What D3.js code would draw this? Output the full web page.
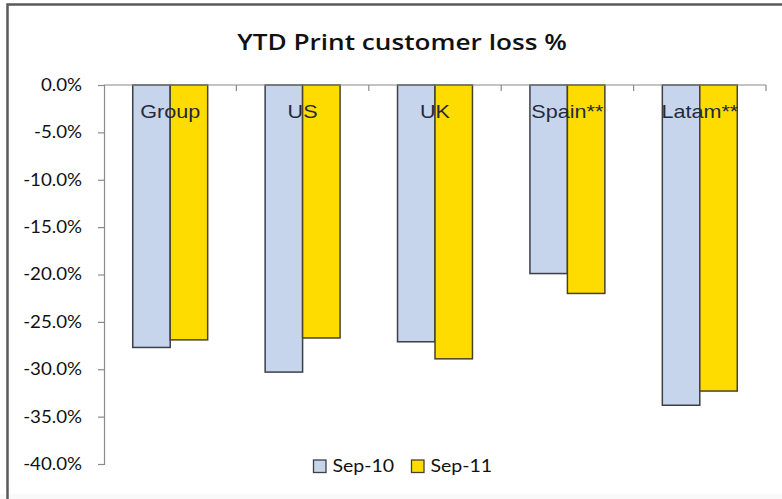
<!DOCTYPE html>
<html>
<head>
<meta charset="utf-8">
<script src="https://cdn.jsdelivr.net/npm/d3@7/dist/d3.min.js"></script>
<style>
  html, body { margin: 0; padding: 0; background: #ffffff; }
  svg { display: block; }
</style>
</head>
<body>
<svg id="chart" width="782" height="499"></svg>
<script>
// ---- data ----
const categories = ["Group", "US", "UK", "Spain**", "Latam**"];
const seriesNames = ["Sep-10", "Sep-11"];
const sep10 = [-0.277, -0.303, -0.271, -0.199, -0.338];
const sep11 = [-0.269, -0.267, -0.289, -0.220, -0.323];
const yTicks = [0, -0.05, -0.10, -0.15, -0.20, -0.25, -0.30, -0.35, -0.40];
const titleText = "YTD Print customer loss %";

const seriesValues = [sep10, sep11];
const colors = ["#c6d5ec", "#ffdc00"];
const strokes = ["#3c3f48", "#4a4228"];

const svg = d3.select("#chart");
const W = 782, H = 499;

function stretch(sel, sx) {
  sel.each(function () {
    const t = d3.select(this);
    const x = +t.attr("x") || 0;
    t.attr("transform", `translate(${x * (1 - sx)},0) scale(${sx},1)`);
  });
}

svg.append("rect").attr("width", W).attr("height", H).attr("fill", "#ffffff");
svg.append("rect").attr("x", 0).attr("y", 494).attr("width", W).attr("height", 5).attr("fill", "#f9f9f9");

// frame (left and top edges visible)
svg.append("path")
  .attr("d", `M7.5,${H} L7.5,4.5 L${W},4.5`)
  .attr("fill", "none").attr("stroke", "#5a5a5a").attr("stroke-width", 2.5);

// scales
const x = d3.scaleBand().domain(categories).range([104, 766]).paddingInner(0.434).paddingOuter(0.217);
const xs = d3.scaleBand().domain(seriesNames).range([0, x.bandwidth()]).padding(0);
const y = d3.scaleLinear().domain([-0.40, 0]).range([464, 85]);

const locale = d3.formatLocale({ decimal: ".", thousands: ",", grouping: [3], currency: ["$", ""], minus: "-" });
const fmt = locale.format(".1%");

// bars
const rows = categories.map((c, i) => ({ cat: c, vals: seriesValues.map((s, j) => ({ name: seriesNames[j], v: s[i], j })) }));
const g = svg.append("g");
const grp = g.selectAll("g.cat").data(rows).join("g").attr("class", "cat")
  .attr("transform", d => `translate(${x(d.cat)},0)`);
grp.selectAll("rect").data(d => d.vals).join("rect")
  .attr("x", d => xs(d.name))
  .attr("y", d => y(Math.max(0, d.v)))
  .attr("width", xs.bandwidth())
  .attr("height", d => Math.abs(y(d.v) - y(0)))
  .attr("fill", d => colors[d.j])
  .attr("stroke", d => strokes[d.j])
  .attr("stroke-width", 1.5);

// y axis
const yAxis = d3.axisLeft(y).tickValues(yTicks).tickFormat(fmt).tickSize(6).tickPadding(16);
const yg = svg.append("g").attr("transform", "translate(104,0)").call(yAxis);
yg.select(".domain").attr("stroke", "#8a8a8a").attr("stroke-width", 1.2);
yg.selectAll(".tick line").attr("stroke", "#8a8a8a").attr("stroke-width", 1.2);
yg.selectAll(".tick text")
  .attr("font-family", "Lato, 'Open Sans', sans-serif")
  .attr("font-size", 17)
  .attr("fill", "#111");
stretch(yg.selectAll(".tick text"), 1.1);

// x axis line at 0 with tick marks at band boundaries
svg.append("line").attr("x1", 104).attr("x2", 766).attr("y1", y(0)).attr("y2", y(0))
  .attr("stroke", "#8a8a8a").attr("stroke-width", 1.2);
const step = x.step();
svg.selectAll("line.xt").data(categories).join("line").attr("class", "xt")
  .attr("x1", c => x(c) + x.bandwidth() / 2 + step / 2)
  .attr("x2", c => x(c) + x.bandwidth() / 2 + step / 2)
  .attr("y1", y(0)).attr("y2", y(0) + 6)
  .attr("stroke", "#8a8a8a").attr("stroke-width", 1.2);

// category labels
const cl = svg.selectAll("text.cat").data(categories).join("text").attr("class", "cat")
  .attr("x", c => x(c) + x.bandwidth() / 2)
  .attr("y", 118)
  .attr("text-anchor", "middle")
  .attr("font-family", "'Liberation Sans', Arial, sans-serif")
  .attr("font-size", 18)
  .attr("fill", "#222a40")
  .text(c => c);
stretch(cl, 1.2);

// title
const tt = svg.append("text")
  .attr("x", 402).attr("y", 50)
  .attr("text-anchor", "middle")
  .attr("font-family", "'Open Sans', sans-serif")
  .attr("font-weight", 600)
  .attr("font-size", 22)
  .attr("fill", "#111")
  .text(titleText);
stretch(tt, 1.19);

// legend
const legX = [313.5, 411.5];
const lg = svg.selectAll("g.leg").data(seriesNames).join("g").attr("class", "leg");
lg.append("rect")
  .attr("x", (d, i) => legX[i]).attr("y", 460)
  .attr("width", 12.5).attr("height", 12.5)
  .attr("fill", (d, i) => colors[i])
  .attr("stroke", (d, i) => strokes[i]).attr("stroke-width", 1.3);
const lt = lg.append("text")
  .attr("x", (d, i) => legX[i] + 19).attr("y", 472)
  .attr("font-family", "Lato, 'Open Sans', sans-serif")
  .attr("font-size", 17)
  .attr("fill", "#111")
  .text(d => d);
stretch(lt, 1.15);
</script>
</body>
</html>
